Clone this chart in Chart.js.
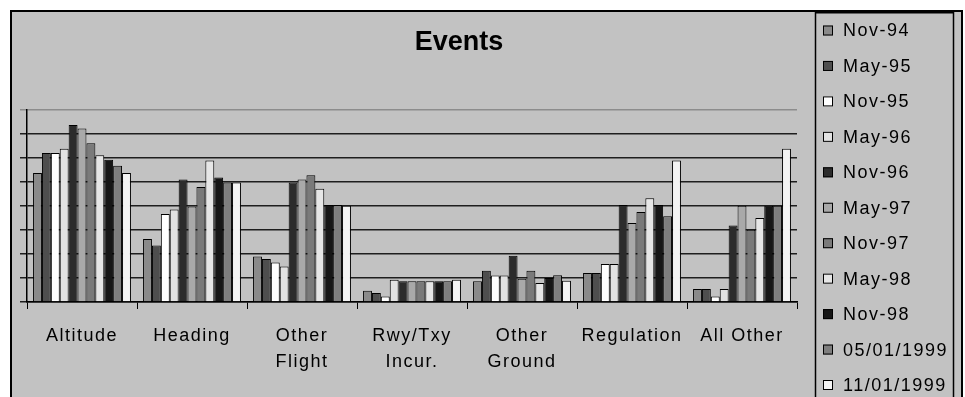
<!DOCTYPE html>
<html>
<head>
<meta charset="utf-8">
<script src="https://cdn.jsdelivr.net/npm/chart.js@4/dist/chart.umd.min.js"></script>
<style>
  html, body { margin: 0; padding: 0; background: #ffffff; }
  canvas { display: block; }
</style>
</head>
<body>
<canvas id="events" width="965" height="397"></canvas>
<script>
// Event categories along the x axis
const categories = ["Altitude", "Heading", ["Other", "Flight"], ["Rwy/Txy", "Incur."], ["Other", "Ground"], "Regulation", "All Other"];

// One value per category for each survey period
const nov94  = [53.8, 26.3, 19.0, 4.7,  8.6, 12.1,  5.4];
const may95  = [62.1, 23.5, 17.9, 3.8, 13.0, 12.1,  5.4];
const nov95  = [62.1, 36.7, 16.5, 2.3, 11.0, 15.8,  2.3];
const may96  = [63.9, 38.5, 14.8, 9.3, 11.0, 15.8,  5.4];
const nov96  = [73.8, 51.0, 49.8, 8.6, 19.3, 40.4, 31.9];
const may97  = [72.3, 39.8, 51.0, 8.6,  9.7, 32.9, 40.1];
const nov97  = [66.1, 47.9, 52.8, 8.6, 13.0, 37.5, 30.1];
const may98  = [61.1, 59.0, 47.2, 8.6,  7.9, 43.2, 35.0];
const nov98  = [59.3, 51.9, 40.4, 8.6, 10.0, 40.4, 40.1];
const may99  = [56.8, 49.8, 40.4, 8.6, 11.1, 35.7, 40.1];
const nov99  = [53.8, 49.8, 40.1, 9.3,  8.9, 59.0, 63.9];

const seriesLabels = ["Nov-94", "May-95", "Nov-95", "May-96", "Nov-96", "May-97", "Nov-97", "May-98", "Nov-98", "05/01/1999", "11/01/1999"];
const seriesValues = [nov94, may95, nov95, may96, nov96, may97, nov97, may98, nov98, may99, nov99];
const seriesColors = ["#8a8a8a", "#4e4e4e", "#ffffff", "#e2e2e2", "#2c2c2c", "#a9a9a9", "#7a7a7a", "#e6e6e6", "#161616", "#7e7e7e", "#f4f4f4"];

// Value axis range (no labels shown, only gridlines and tick marks)
const yMin = 0, yMax = 80, yStep = 10;

const FONT = "'Liberation Sans', Arial, sans-serif";
const PANEL = "#c2c2c2";

// Frame, panel background, title and the boxed legend on the right
const framePlugin = {
  id: 'frame',
  beforeUpdate(chart) {
    chart.ctx.letterSpacing = '1.5px';
  },
  beforeDraw(chart) {
    const ctx = chart.ctx;
    ctx.save();
    ctx.fillStyle = '#ffffff';
    ctx.fillRect(0, 0, chart.width, chart.height);
    ctx.fillStyle = PANEL;
    ctx.fillRect(10, 10, 952, chart.height - 10);
    ctx.restore();
    ctx.letterSpacing = '1.5px';
  },
  afterDraw(chart) {
    const ctx = chart.ctx;
    ctx.save();
    // outer frame
    ctx.strokeStyle = '#000';
    ctx.lineWidth = 2;
    ctx.beginPath();
    ctx.moveTo(11, chart.height);
    ctx.lineTo(11, 11);
    ctx.lineTo(962, 11);
    ctx.lineTo(962, chart.height);
    ctx.stroke();
    // legend box
    ctx.lineWidth = 3;
    ctx.beginPath();
    ctx.moveTo(815, 12);
    ctx.lineTo(953, 12);
    ctx.stroke();
    ctx.lineWidth = 1.5;
    ctx.beginPath();
    ctx.moveTo(815.5, 11);
    ctx.lineTo(815.5, chart.height);
    ctx.moveTo(953.5, 11);
    ctx.lineTo(953.5, chart.height);
    ctx.stroke();

    // title
    ctx.letterSpacing = '0px';
    ctx.fillStyle = '#000';
    ctx.font = "bold 27px " + FONT;
    ctx.textAlign = 'center';
    ctx.textBaseline = 'middle';
    ctx.fillText('Events', 459, 43);

    // legend entries
    ctx.letterSpacing = '1.5px';
    ctx.font = "18px " + FONT;
    ctx.textAlign = 'left';
    chart.data.datasets.forEach((ds, i) => {
      const yc = 30.5 + i * 35.45;
      ctx.fillStyle = ds.backgroundColor;
      ctx.fillRect(823, yc - 5, 10, 10);
      ctx.strokeStyle = '#000';
      ctx.lineWidth = 1;
      ctx.strokeRect(823.5, yc - 4.5, 9, 9);
      ctx.fillStyle = '#000';
      ctx.fillText(ds.label, 843, yc + 1);
    });
    ctx.restore();
  }
};

new Chart(document.getElementById('events'), {
  type: 'bar',
  data: {
    labels: categories,
    datasets: seriesLabels.map((label, i) => ({
      label: label,
      data: seriesValues[i],
      backgroundColor: seriesColors[i],
      borderColor: '#000000',
      borderWidth: 1,
      barPercentage: 1.0,
      categoryPercentage: 0.89
    }))
  },
  options: {
    responsive: false,
    animation: false,
    devicePixelRatio: 1,
    layout: { padding: { left: 20, right: 168, top: 110, bottom: 0 } },
    plugins: {
      legend: { display: false },
      title: { display: false },
      tooltip: { enabled: false }
    },
    scales: {
      x: {
        grid: {
          offset: true,
          drawOnChartArea: false,
          drawTicks: true,
          tickLength: 7,
          color: '#000',
          lineWidth: 1
        },
        border: { color: '#000', width: 1.5 },
        ticks: {
          color: '#000',
          font: { family: FONT, size: 18, lineHeight: 1.45 },
          padding: 14,
          maxRotation: 0,
          autoSkip: false
        },
        afterFit(scale) { scale.height = 95; }
      },
      y: {
        min: yMin,
        max: yMax,
        ticks: { display: false, stepSize: yStep },
        grid: {
          drawTicks: true,
          tickLength: 7,
          lineWidth: 1.5,
          color: (c) => (c.tick && c.tick.value === yMax) ? '#8c8c8c' : '#1e1e1e'
        },
        border: { color: '#000', width: 1.5 },
        afterFit(scale) { scale.width = 7; }
      }
    }
  },
  plugins: [framePlugin]
});
</script>
</body>
</html>
